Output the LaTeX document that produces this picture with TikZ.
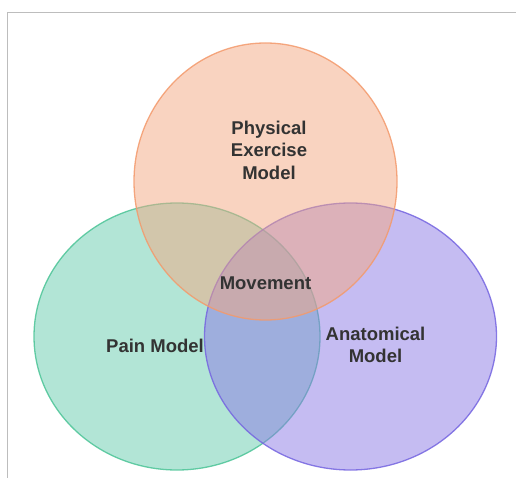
\documentclass[tikz,border=0pt]{standalone}
\usepackage{fontspec}
\setmainfont{Liberation Sans}
\usepackage{xcolor}

\definecolor{painfill}{HTML}{65CBAD}
\definecolor{painline}{HTML}{4CC497}
\definecolor{anatfill}{HTML}{8B79E5}
\definecolor{anatline}{HTML}{7565E0}
\definecolor{exerfill}{HTML}{F3A781}
\definecolor{exerline}{HTML}{F39A6C}
\definecolor{frameline}{HTML}{BDBDBD}
\definecolor{labeltext}{HTML}{333333}

\tikzset{
  venn/.style={line width=1.3pt, fill opacity=0.5, draw opacity=0.85},
  vennlabel/.style={font=\fontsize{18.5}{22.5}\selectfont\bfseries, text=labeltext, align=center, inner sep=0pt}
}

\begin{document}
\begin{tikzpicture}[x=1pt,y=-1pt]
        \useasboundingbox (0,0) rectangle (516,478);

        % Rahmen
        \draw[frameline, line width=0.8pt] (516,12) -- (7,12) -- (7,478);

        % Kreise
        \draw[venn, draw=painline, fill=painfill] (177,336.5) ellipse [x radius=143pt, y radius=133.5pt];
        \draw[venn, draw=anatline, fill=anatfill] (350.5,336.5) ellipse [x radius=146pt, y radius=133.5pt];
        \draw[venn, draw=exerline, fill=exerfill] (265.5,181.5) ellipse [x radius=131.5pt, y radius=138.5pt];

        % Beschriftungen
        \node[vennlabel] (exercise) at (269,150) {Physical\\Exercise\\Model};
        \node[vennlabel] (movement) at (265.5,283) {Movement};
        \node[vennlabel] (pain)     at (155,346) {Pain Model};
        \node[vennlabel] (anatomy)  at (375.5,345) {Anatomical\\Model};
\end{tikzpicture}
\end{document}
